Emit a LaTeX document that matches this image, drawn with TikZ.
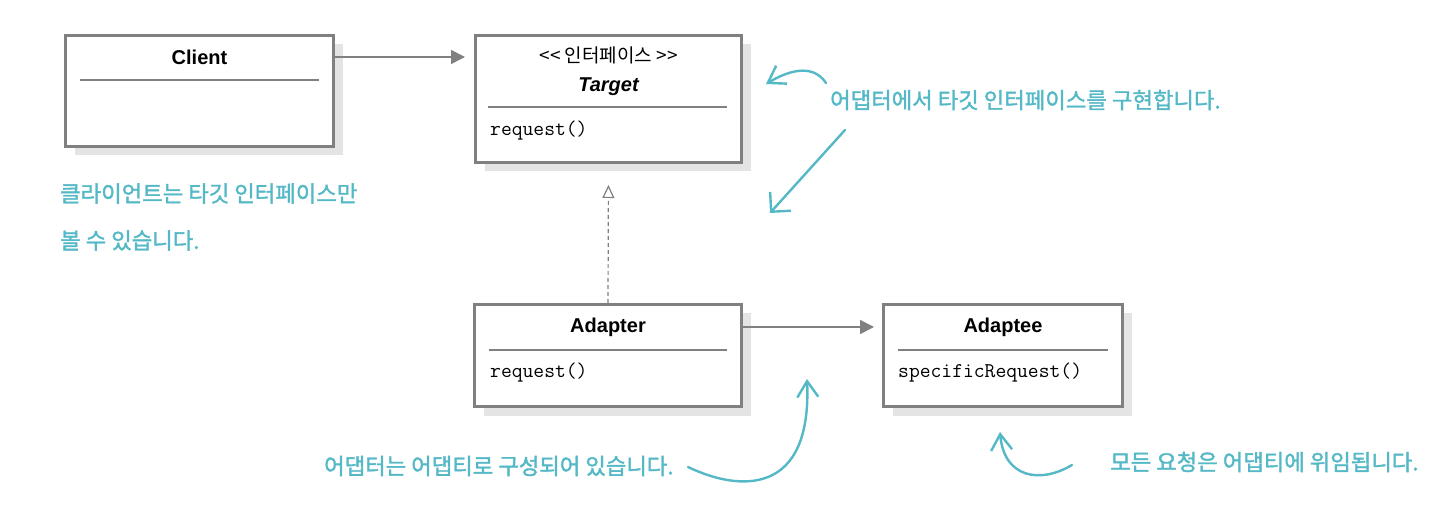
\documentclass[tikz,border=0pt]{standalone}
\usepackage{fontspec}
\setmainfont{Liberation Sans}
\newfontfamily\kr{Noto Sans CJK KR}
\newfontfamily\krnote[FakeBold=1.6]{Noto Sans CJK KR}
\usetikzlibrary{arrows.meta,positioning,shadows}

\definecolor{boxgrey}{RGB}{128,128,128}
\definecolor{shadowgrey}{RGB}{228,228,228}
\definecolor{noteteal}{RGB}{84,184,198}

\tikzset{
  umlclass/.style={draw=boxgrey, line width=3pt, fill=white, anchor=north west,
    inner sep=0pt, drop shadow={shadow xshift=9pt, shadow yshift=-9pt,
    fill=shadowgrey, opacity=1}},
  classname/.style={font=\fontsize{20}{24}\selectfont\bfseries, inner sep=0pt},
  method/.style={font=\fontsize{21}{24}\selectfont\ttfamily, inner sep=0pt, anchor=west},
  sepline/.style={draw=boxgrey, line width=2pt},
  assoc/.style={draw=boxgrey, line width=1.6pt,
    -{Triangle[length=14pt,width=14pt,fill=boxgrey]}},
  realize/.style={draw=boxgrey, line width=1.2pt, dash pattern=on 4pt off 3pt,
    -{Triangle[open,length=13pt,width=12pt,fill=white,line width=1.2pt]}},
  note/.style={text=noteteal, font=\krnote\fontsize{22.3}{47}\selectfont, inner sep=0pt,
    anchor=west, align=left},
  hand/.style={draw=noteteal, line width=2.4pt, line cap=round,
    -{Straight Barb[length=16pt,width=21pt,line width=2.4pt]}},
  widehand/.style={hand, -{Straight Barb[length=14pt,width=28pt,line width=2.4pt]}}
}

\begin{document}
\begin{tikzpicture}[x=1pt,y=-1pt]
\useasboundingbox (0,0) rectangle (1456,510);

% classes
\node[umlclass, minimum width=268, minimum height=111] (client) at (64,34) {};
\node[umlclass, minimum width=266, minimum height=127] (target) at (474,34) {};
\node[umlclass, minimum width=267, minimum height=102] (adapter) at (473,303) {};
\node[umlclass, minimum width=239, minimum height=102] (adaptee) at (882,303) {};

\node[classname] (clientname) at ([yshift=-23pt]client.north) {Client};
\draw[sepline] ([xshift=16pt,yshift=-46pt]client.north west)
  -- ([xshift=-16pt,yshift=-46pt]client.north east);

\node[inner sep=0pt, font=\kr\fontsize{19}{20}\selectfont] (stereo)
  at ([yshift=-21pt]target.north) {<< 인터페이스 >>};
\node[classname, font=\fontsize{20}{24}\selectfont\bfseries\itshape] (targetname)
  at ([yshift=-53pt]target.north) {Target};
\draw[sepline] ([xshift=14pt,yshift=-73pt]target.north west)
  -- ([xshift=-16pt,yshift=-73pt]target.north east);
\node[method] (targetreq) at ([xshift=16pt,yshift=-97pt]target.north west) {request()};

\node[classname] (adaptername) at ([yshift=-24pt]adapter.north) {Adapter};
\draw[sepline] ([xshift=16pt,yshift=-47pt]adapter.north west)
  -- ([xshift=-16pt,yshift=-47pt]adapter.north east);
\node[method] (adapterreq) at ([xshift=17pt,yshift=-70pt]adapter.north west) {request()};

\node[classname] (adapteename) at ([yshift=-24pt]adaptee.north) {Adaptee};
\draw[sepline] ([xshift=16pt,yshift=-47pt]adaptee.north west)
  -- ([xshift=-16pt,yshift=-47pt]adaptee.north east);
\node[method] (adapteereq) at ([xshift=16pt,yshift=-70pt]adaptee.north west) {specificRequest()};

% relations
\draw[assoc, shorten >=9pt] (client.east |- clientname) -- (target.west |- clientname);
\draw[assoc, shorten >=8pt] (adapter.east |- adaptername) -- (adaptee.west |- adaptername);
\draw[realize, shorten >=21pt] (adapter.north) -- (target.south);

% notes
\node[note] (noteclient) at (60,217) {클라이언트는 타깃 인터페이스만\\볼 수 있습니다.};
\node[note] (notetarget) at (830,100) {어댑터에서 타깃 인터페이스를 구현합니다.};
\node[note] (notecompose) at (324,466) {어댑터는 어댑티로 구성되어 있습니다.};
\node[note] (notedelegate) at (1110,462) {모든 요청은 어댑티에 위임됩니다.};

\coordinate (hand1a) at (826,83);
\coordinate (hand1b) at (766,84);
\coordinate (hand2a) at (845,130);
\coordinate (hand2b) at (770,213);
\coordinate (hand3a) at (688,467);
\coordinate (hand3b) at (807,379);
\coordinate (hand4a) at (1072,465);
\coordinate (hand4b) at (1000,432);

\draw[hand] (hand1a) .. controls (812,62) and (786,72) .. (hand1b);
\draw[widehand] (hand2a) -- (hand2b);
\draw[hand] (hand3a) .. controls (740,492) and (812,496) .. (hand3b);
\draw[hand] (hand4a) .. controls (1040,484) and (1004,478) .. (hand4b);
\end{tikzpicture}
\end{document}
